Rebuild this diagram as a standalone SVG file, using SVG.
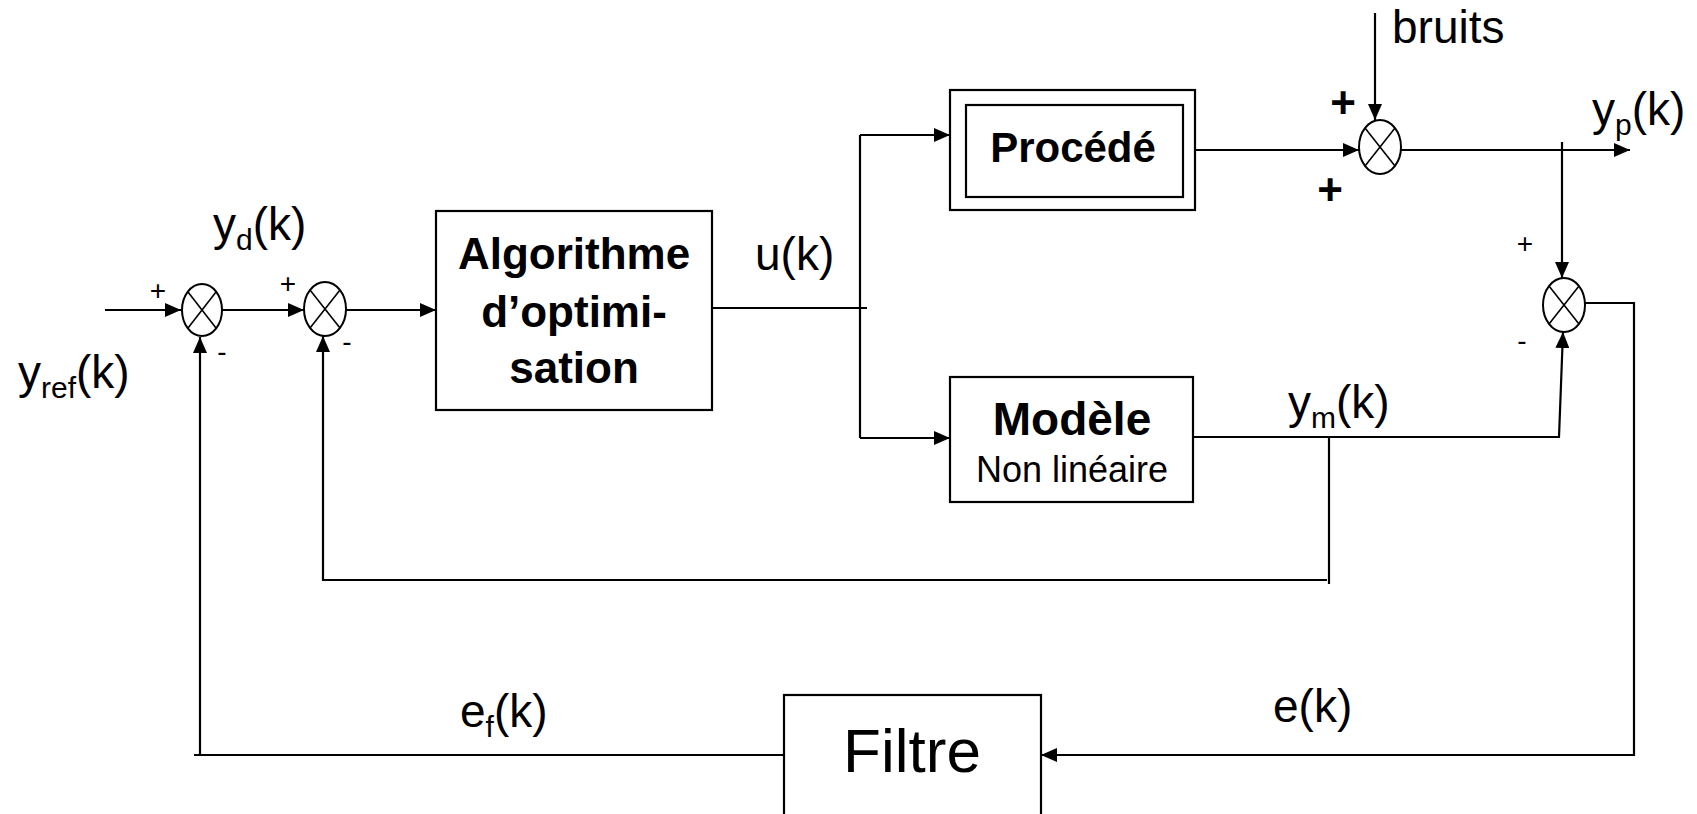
<svg xmlns="http://www.w3.org/2000/svg" width="1697" height="814" viewBox="0 0 1697 814">
<defs>
<style>
text{font-family:"Liberation Sans",Arial,sans-serif;fill:#000}
.lbl{font-size:46px}
.sub{font-size:30px}
.sg{font-size:28px;text-anchor:middle}
.sgb{font-size:44px;font-weight:bold;text-anchor:middle}
.bt{font-weight:bold;text-anchor:middle}
.box{fill:#fff;stroke:#000;stroke-width:2.2}
.con{fill:none;stroke:#000;stroke-width:2.2}
.sum{fill:#fff;stroke:#000;stroke-width:2}
.x{stroke:#000;stroke-width:1.6}
</style>
<marker id="ah" markerUnits="userSpaceOnUse" markerWidth="16" markerHeight="14" refX="16" refY="7" orient="auto">
<path d="M0,0 L16,7 L0,14 z" fill="#000"/>
</marker>
</defs>
<rect width="1697" height="814" fill="#fff"/>

<g id="connectors">
<path class="con" d="M105,310 H181" marker-end="url(#ah)"/>
<path class="con" d="M222,310 H304" marker-end="url(#ah)"/>
<path class="con" d="M346,310 H436" marker-end="url(#ah)"/>
<path class="con" d="M712,308 H867"/>
<path class="con" d="M860,135 V438"/>
<path class="con" d="M860,135 H950" marker-end="url(#ah)"/>
<path class="con" d="M860,438 H950" marker-end="url(#ah)"/>
<path class="con" d="M1195,150 H1359" marker-end="url(#ah)"/>
<path class="con" d="M1375,13 V120" marker-end="url(#ah)"/>
<path class="con" d="M1401,150 H1630" marker-end="url(#ah)"/>
<path class="con" d="M1562,142 V278" marker-end="url(#ah)"/>
<path class="con" d="M1193,437 H1559 L1563,332" marker-end="url(#ah)"/>
<path class="con" d="M1329,437 V584"/>
<path class="con" d="M1327,580 H323 V336" marker-end="url(#ah)"/>
<path class="con" d="M1585,303 H1634 V755 H1041" marker-end="url(#ah)"/>
<path class="con" d="M784,755 H194"/>
<path class="con" d="M200,755 V337" marker-end="url(#ah)"/>
</g>

<g id="sum1">
<ellipse class="sum" cx="202" cy="310" rx="20" ry="26"/>
<line class="x" x1="188" y1="292" x2="216" y2="328"/>
<line class="x" x1="216" y1="292" x2="188" y2="328"/>
</g>
<g id="sum2">
<ellipse class="sum" cx="325" cy="309" rx="21" ry="27"/>
<line class="x" x1="310" y1="290" x2="340" y2="328"/>
<line class="x" x1="340" y1="290" x2="310" y2="328"/>
</g>
<g id="sum3">
<ellipse class="sum" cx="1380" cy="147" rx="21" ry="27"/>
<line class="x" x1="1365" y1="128" x2="1395" y2="166"/>
<line class="x" x1="1395" y1="128" x2="1365" y2="166"/>
</g>
<g id="sum4">
<ellipse class="sum" cx="1564" cy="305" rx="21" ry="27"/>
<line class="x" x1="1549" y1="286" x2="1579" y2="324"/>
<line class="x" x1="1579" y1="286" x2="1549" y2="324"/>
</g>

<g id="algo">
<rect class="box" x="436" y="211" width="276" height="199"/>
<text class="bt" x="574" y="269" font-size="44">Algorithme</text>
<text class="bt" x="574" y="327" font-size="44">d’optimi-</text>
<text class="bt" x="574" y="383" font-size="44">sation</text>
</g>

<g id="procede">
<rect class="box" x="950" y="90" width="245" height="120"/>
<rect class="box" x="966" y="105" width="217" height="92"/>
<text class="bt" x="1073" y="162" font-size="42">Procédé</text>
</g>

<g id="modele">
<rect class="box" x="950" y="377" width="243" height="125"/>
<text class="bt" x="1072" y="435" font-size="46">Modèle</text>
<text x="1072" y="482" font-size="36" text-anchor="middle">Non linéaire</text>
</g>

<g id="filtre">
<rect class="box" x="784" y="695" width="257" height="140"/>
<text x="912" y="772" font-size="62" text-anchor="middle">Filtre</text>
</g>

<g id="labels">
<text class="lbl" x="213" y="240">y<tspan class="sub" dy="10">d</tspan><tspan dy="-10">(k)</tspan></text>
<text class="lbl" x="18" y="388">y<tspan class="sub" dy="10">ref</tspan><tspan dy="-10">(k)</tspan></text>
<text class="lbl" x="755" y="270">u(k)</text>
<text class="lbl" x="1592" y="125">y<tspan class="sub" dy="10">p</tspan><tspan dy="-10">(k)</tspan></text>
<text class="lbl" x="1288" y="418">y<tspan class="sub" dy="10">m</tspan><tspan dy="-10">(k)</tspan></text>
<text class="lbl" x="1392" y="43">bruits</text>
<text class="lbl" x="460" y="727">e<tspan class="sub" dy="10">f</tspan><tspan dy="-10">(k)</tspan></text>
<text class="lbl" x="1273" y="722">e(k)</text>
<text class="sg" x="158" y="300">+</text>
<text class="sg" x="288" y="293">+</text>
<text class="sg" x="222" y="361">-</text>
<text class="sg" x="347" y="351">-</text>
<text class="sg" x="1525" y="253">+</text>
<text class="sg" x="1522" y="350">-</text>
<text class="sgb" x="1343" y="118">+</text>
<text class="sgb" x="1330" y="205">+</text>
</g>
</svg>
